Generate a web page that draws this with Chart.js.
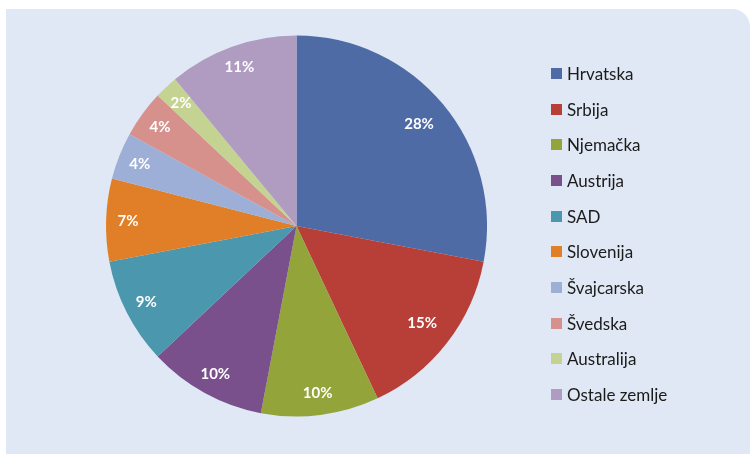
<!DOCTYPE html>
<html>
<head>
<meta charset="utf-8">
<script src="https://cdn.jsdelivr.net/npm/chart.js@4/dist/chart.umd.min.js"></script>
<style>
  html, body { margin: 0; padding: 0; background: #ffffff; }
  #wrap { width: 750px; height: 454px; position: relative; }
</style>
</head>
<body>
<div id="wrap"><canvas id="c" width="750" height="454"></canvas></div>
<script>
// Countries and their shares (%)
const countries = ['Hrvatska', 'Srbija', 'Njemačka', 'Austrija', 'SAD', 'Slovenija', 'Švajcarska', 'Švedska', 'Australija', 'Ostale zemlje'];
const shares = [28, 15, 10, 10, 9, 7, 4, 4, 2, 11];
const sliceColors = ['#4e6ba6', '#b73f38', '#93a43a', '#7a508c', '#4b98ae', '#e07f27', '#9dafd6', '#d6918c', '#c5d392', '#b09cc0'];

const FONT = 'Lato, "Open Sans", "DejaVu Sans", sans-serif';

// Light blue panel with a rounded top-right corner
const panelPlugin = {
  id: 'panel',
  beforeDraw(chart) {
    const ctx = chart.ctx;
    const x0 = 6, y0 = 9, x1 = chart.width, y1 = chart.height, r = 18;
    ctx.save();
    ctx.fillStyle = '#dfe8f4';
    ctx.beginPath();
    ctx.moveTo(x0, y0);
    ctx.lineTo(x1 - r, y0);
    ctx.arcTo(x1, y0, x1, y0 + r, r);
    ctx.lineTo(x1, y1);
    ctx.lineTo(x0, y1);
    ctx.closePath();
    ctx.fill();
    ctx.restore();
  }
};

// Percentage labels inside each slice
const sliceLabelPlugin = {
  id: 'sliceLabels',
  afterDatasetsDraw(chart) {
    const ctx = chart.ctx;
    const meta = chart.getDatasetMeta(0);
    ctx.save();
    ctx.fillStyle = '#ffffff';
    ctx.font = 'bold 15px ' + FONT;
    ctx.textAlign = 'center';
    ctx.textBaseline = 'middle';
    meta.data.forEach((arc, i) => {
      const p = arc.getProps(['x', 'y', 'startAngle', 'endAngle', 'outerRadius'], true);
      const mid = (p.startAngle + p.endAngle) / 2;
      const v = chart.data.datasets[0].data[i];
      const rr = p.outerRadius * (v >= 15 ? 0.835 : 0.885);
      ctx.fillText(v + '%', p.x + Math.cos(mid) * rr, p.y + Math.sin(mid) * rr);
    });
    ctx.restore();
  }
};

// Legend column on the right
const legendPlugin = {
  id: 'sideLegend',
  afterDraw(chart) {
    const ctx = chart.ctx;
    const labels = chart.data.labels;
    const colors = chart.data.datasets[0].backgroundColor;
    const boxX = 551, box = 11, textX = 567, top = 73.7, step = 35.64;
    ctx.save();
    ctx.font = '17px ' + FONT;
    ctx.textBaseline = 'middle';
    ctx.textAlign = 'left';
    labels.forEach((lab, i) => {
      const cy = top + i * step;
      ctx.fillStyle = colors[i];
      ctx.fillRect(boxX, Math.round(cy - box / 2), box, box);
      ctx.fillStyle = '#1b1b1b';
      ctx.fillText(lab, textX, cy + 1);
    });
    ctx.restore();
  }
};

new Chart(document.getElementById('c'), {
  type: 'pie',
  data: {
    labels: countries,
    datasets: [{
      data: shares,
      backgroundColor: sliceColors,
      borderWidth: 0
    }]
  },
  options: {
    responsive: false,
    animation: false,
    layout: { padding: { left: 106, right: 263, top: 35.5, bottom: 37.5 } },
    plugins: {
      legend: { display: false },
      tooltip: { enabled: false }
    }
  },
  plugins: [panelPlugin, sliceLabelPlugin, legendPlugin]
});
</script>
</body>
</html>
